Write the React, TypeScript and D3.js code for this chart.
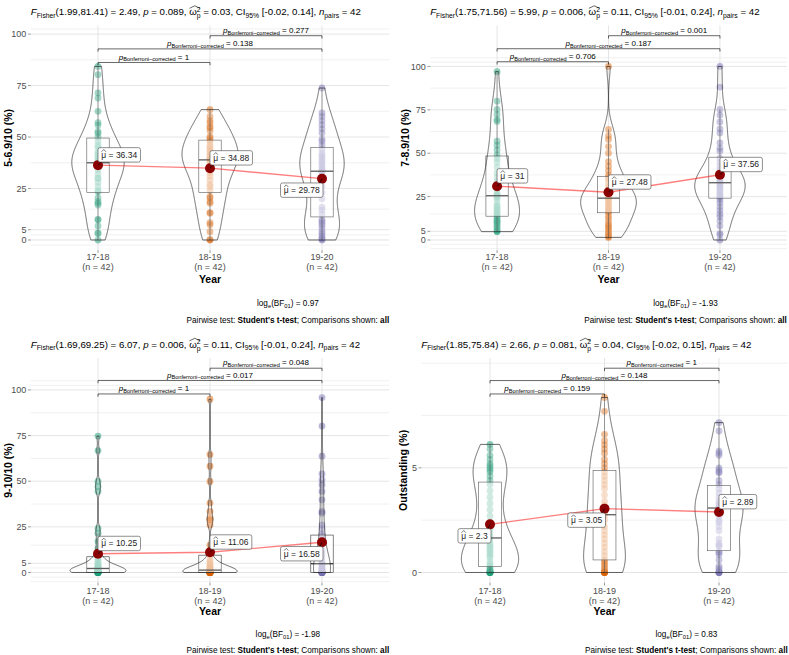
import React, { useEffect, useRef } from "react";
import * as d3 from "d3";

// ---------- shared categories / styling ----------
const years = ["17-18", "18-19", "19-20"];
const groupN = ["(n = 42)", "(n = 42)", "(n = 42)"];
const palette = ["#1B9E77", "#D95F02", "#7570B3"];
const yBreaks = [0, 5, 25, 50, 75, 100];
const pairIdx = [[0, 1], [0, 2], [1, 2]];

// ---------- Panel A: 5-6.9/10 (%) ----------
const a1718 = [84.3, 80.3, 71.4, 68.9, 62.5, 57, 55.8, 52.7, 51.8, 49.9, 48, 46, 45, 43, 42, 41, 40, 39, 38, 37.5, 37.5, 37, 36, 35.6, 34, 32, 30, 29.9, 28, 26, 24, 23.4, 20.4, 18.6, 17.9, 17, 10, 9.8, 6.8, 3.4, 3.2, 0];
const a1819 = [63.3, 60, 58, 56.8, 55, 54.4, 52.9, 50.2, 49.5, 48.5, 47.7, 46, 45, 44, 43, 42, 41, 40, 39.5, 39, 39, 38.5, 37, 36, 34, 32.5, 31, 29, 27, 25.9, 24, 21, 20.4, 18.6, 17.9, 13.3, 13, 8.4, 7.4, 4, 0.2, 0];
const a1920 = [73.8, 61.7, 60, 58, 56, 54, 52, 49, 47.9, 46, 44, 42, 41, 40, 39, 38, 37, 36, 35, 34, 33.4, 33, 31, 29, 28.5, 26, 23, 20, 16, 14.6, 12.5, 10, 9, 8, 7, 5.5, 4, 3, 2, 1, 0.5, 0];
const aMeans = [36.34, 34.88, 29.78];
const aQ1 = [23, 23, 11.2];
const aMed = [37.5, 38.9, 33.4];
const aQ3 = [49.5, 48.5, 45];
const aPairP = ["1", "0.138", "0.277"];
const aPairY = [86.2, 92.8, 99.2];
const aStats = ["1.99,81.41", "2.49", "0.089", "0.03", "[-0.02, 0.14]", "42"];
const aBF = "0.97";

// ---------- Panel B: 7-8.9/10 (%) ----------
const b1718 = [97, 80, 75.2, 72.3, 69.4, 68.3, 56.9, 54.6, 51.9, 49, 47, 45, 42, 38.6, 36, 33.6, 31, 29, 27, 26, 25.5, 25, 24, 22, 20, 19.2, 18, 17, 16, 15, 14, 13.4, 12, 11, 10.8, 9.8, 9, 7.9, 7, 6, 5, 4.8];
const b1819 = [100, 63.7, 60, 57.9, 53.8, 50, 45.2, 42.5, 40, 37.5, 36, 35, 33, 31, 29.8, 28, 27, 26, 25, 24.5, 24, 24, 23, 22, 21, 20, 19, 18, 17, 16.3, 16, 14, 12.5, 10.6, 9, 8, 7, 6, 4.5, 3.5, 2.3, 1.5];
const b1920 = [100, 88.1, 75.2, 72, 68, 64, 61.7, 56, 52.9, 51.2, 47, 45, 43, 41, 40, 38, 37, 36, 35, 34, 33, 33, 32, 31, 30, 29, 28, 27, 26, 25, 24.5, 23, 21.3, 19, 17, 15, 13.5, 11, 8, 3.8, 3.1, 0];
const bMeans = [31, 27.48, 37.56];
const bQ1 = [13.7, 15.7, 24.1];
const bMed = [25.5, 24.1, 33];
const bQ3 = [48.4, 36.6, 47.7];
const bPairP = ["0.706", "0.187", "0.001"];
const bPairY = [102.7, 110.2, 117.7];
const bStats = ["1.75,71.56", "5.99", "0.006", "0.11", "[-0.01, 0.24]", "42"];
const bBF = "-1.93";

// ---------- Panel C: 9-10/10 (%) ----------
const c1718 = [74.7, 66.8, 49.9, 47.1, 44.4, 24.2, 21.5, 17, 13.2, 9.5, 8, 7, 6, 5, 4.5, 4, 3.5, 3, 3, 2.5, 2.2, 2, 2, 1.5, 1.3, 1, 1, 0.5, 0.5, 0.2, 0, 0, 0, 0, 0, 0, 0, 0, 0, 0, 0, 0];
const c1819 = [94.9, 64.6, 58.2, 49.9, 38, 33.4, 29.7, 28.8, 26, 15, 9, 7, 6, 5, 4, 3.5, 3, 2.5, 2, 1.5, 1.3, 1, 1, 0.8, 0.5, 0.5, 0.3, 0, 0, 0, 0, 0, 0, 0, 0, 0, 0, 0, 0, 0, 0, 0];
const c1920 = [95.8, 80.2, 63.7, 54, 50.8, 48.1, 44.4, 39.8, 33.4, 32.5, 26, 24, 21, 20, 18, 15, 12, 10, 8, 6, 5, 4.5, 4, 3, 2.5, 2, 1.5, 1, 0.5, 0.2, 0.1, 0, 0, 0, 0, 0, 0, 0, 0, 0, 0, 0];
const cMeans = [10.25, 11.06, 16.58];
const cQ1 = [0, 0, 0];
const cMed = [2.2, 1.3, 4.8];
const cQ3 = [8.6, 9.5, 20.5];
const cPairP = ["1", "0.017", "0.048"];
const cPairY = [97.8, 105.2, 111.9];
const cStats = ["1.69,69.25", "6.07", "0.006", "0.11", "[-0.01, 0.24]", "42"];
const cBF = "-1.98";

// ---------- Panel D: Outstanding (%) ----------
const d1718 = [6.12, 5.9, 5.6, 5.4, 5.2, 5.1, 5.0, 4.9, 4.8, 4.6, 4.4, 4.2, 3.9, 3.6, 3.3, 3.0, 2.7, 2.4, 2.1, 1.9, 1.7, 1.6, 1.4, 1.3, 1.2, 1.1, 1.0, 0.9, 0.8, 0.7, 0.5, 0.4, 0.3, 0.2, 0.1, 0.1, 0, 0, 0, 0, 0, 0];
const d1819 = [8.36, 7.7, 6.6, 6.3, 6.1, 5.9, 5.7, 5.4, 5.2, 5.0, 4.8, 4.6, 4.4, 4.2, 4.0, 3.7, 3.4, 3.2, 3.0, 2.9, 2.8, 2.7, 2.5, 2.2, 2.0, 1.8, 1.6, 1.4, 1.2, 1.0, 0.8, 0.6, 0.5, 0.4, 0.3, 0.2, 0.1, 0, 0, 0, 0, 0];
const d1920 = [7.16, 6.76, 5.8, 5.7, 5.6, 5.0, 4.9, 4.8, 4.76, 4.4, 4.2, 4.0, 3.8, 3.6, 3.4, 3.3, 3.2, 3.1, 3.1, 3.0, 3.0, 2.9, 2.7, 2.5, 2.4, 2.2, 2.0, 1.6, 1.4, 1.3, 1.25, 1.0, 0.95, 0.85, 0.6, 0.3, 0.2, 0.1, 0, 0, 0, 0];
const dMeans = [2.3, 3.05, 2.89];
const dQ1 = [0.29, 0.6, 1.04];
const dMed = [1.65, 2.76, 3.08];
const dQ3 = [4.32, 4.88, 4.15];
const dPairP = ["0.159", "0.148", "1"];
const dPairY = [8.53, 9.17, 9.76];
const dStats = ["1.85,75.84", "2.66", "0.081", "0.04", "[-0.02, 0.15]", "42"];
const dBF = "0.83";

const panels = [
  { title: "5-6.9/10 (%)", groups: [a1718, a1819, a1920], means: aMeans, q1: aQ1, med: aMed, q3: aQ3, pairP: aPairP, pairY: aPairY, stats: aStats, bf: aBF },
  { title: "7-8.9/10 (%)", groups: [b1718, b1819, b1920], means: bMeans, q1: bQ1, med: bMed, q3: bQ3, pairP: bPairP, pairY: bPairY, stats: bStats, bf: bBF },
  { title: "9-10/10 (%)", groups: [c1718, c1819, c1920], means: cMeans, q1: cQ1, med: cMed, q3: cQ3, pairP: cPairP, pairY: cPairY, stats: cStats, bf: cBF },
  { title: "Outstanding (%)", groups: [d1718, d1819, d1920], means: dMeans, q1: dQ1, med: dMed, q3: dQ3, pairP: dPairP, pairY: dPairY, stats: dStats, bf: dBF },
];

// ---------- layout (pixels) ----------
const layouts = [
  { left: 30.8, right: 389.2, top: 25.5, bottom: 250.2, titleX: 8.3, side: [1, 1, -1], tickY: [10, 20], yearY: 32.5, capY: [56, 73] },
  { left: 430.2, right: 786.8, top: 25.5, bottom: 250.2, titleX: 405, side: [1, 1, 1], tickY: [10, 20], yearY: 32.5, capY: [56, 73] },
  { left: 30.8, right: 389.2, top: 358, bottom: 582.7, titleX: 8.3, side: [1, 1, -1], tickY: [11.2, 21.2], yearY: 32.3, capY: [54.5, 70.3] },
  { left: 421.3, right: 787.7, top: 358, bottom: 582.7, titleX: 403, side: [-1, -1, 1], tickY: [11.2, 21.2], yearY: 32.3, capY: [54.5, 70.3] },
];

const FONT = "'Liberation Sans', Arial, Helvetica, sans-serif";

type Seg = { t: string; s: number; it?: boolean; b?: boolean; dy?: number; stack?: boolean; hat?: boolean; hatExtra?: number };

function richText(parent: any, x: number, y: number, segs: Seg[], anchor: string, fill: string) {
  const g = parent.append("g");
  let cursor = 0;
  let prevStart = 0;
  const hats: number[][] = [];
  for (const sg of segs) {
    const start = sg.stack ? prevStart : cursor;
    const t = g
      .append("text")
      .attr("x", start)
      .attr("y", sg.dy || 0)
      .attr("font-size", sg.s)
      .attr("font-style", sg.it ? "italic" : null)
      .attr("font-weight", sg.b ? "bold" : null)
      .attr("fill", fill)
      .text(sg.t.replace(/ /g, "\u00A0"));
    const w = (t.node() as SVGTextElement).getComputedTextLength();
    if (sg.hat) hats.push([start, w + (sg.hatExtra || 0), sg.s]);
    if (sg.stack) cursor = Math.max(cursor, start + w);
    else {
      prevStart = cursor;
      cursor = start + w;
    }
  }
  hats.forEach(([s0, w, fs]) => {
    const yb = -fs * 0.72;
    const yt = -fs * 0.98;
    g.append("path")
      .attr("d", `M${s0 + 0.3},${yb} L${s0 + w / 2},${yt} L${s0 + w - 0.3},${yb}`)
      .attr("fill", "none")
      .attr("stroke", fill)
      .attr("stroke-width", 0.6);
  });
  const shift = anchor === "start" ? 0 : anchor === "middle" ? -cursor / 2 : -cursor;
  g.attr("transform", `translate(${x + shift},${y})`);
  return cursor;
}

function kde(vals: number[]) {
  const n = vals.length;
  const sorted = [...vals].sort((a, b) => a - b);
  const sd = d3.deviation(vals) || 0;
  const iqr = (d3.quantile(sorted, 0.75) as number) - (d3.quantile(sorted, 0.25) as number);
  let lo = Math.min(sd, iqr / 1.34);
  if (!(lo > 0)) lo = sd || Math.abs(sorted[0]) || 1;
  const bw = 0.9 * lo * Math.pow(n, -0.2);
  const mn = sorted[0];
  const mx = sorted[n - 1];
  return d3.range(512).map((k) => {
    const v = mn + ((mx - mn) * k) / 511;
    const d = (d3.mean(vals, (xi) => Math.exp(-0.5 * ((v - xi) / bw) ** 2)) as number) / (bw * Math.sqrt(2 * Math.PI));
    return { v, d };
  });
}

function drawPanel(svg: any, p: any, L: any) {
  const g = svg.append("g");
  const x = d3.scalePoint<string>().domain(years).range([L.left, L.right]).padding(0.6);
  const step = x.step();
  const allVals: number[] = p.groups.flat();
  const lo = Math.min(d3.min(allVals) as number, 0);
  const hi = d3.max(p.pairY as number[]) as number;
  const span = hi - lo;
  const y = d3.scaleLinear().domain([lo - 0.05 * span, hi + 0.05 * span]).range([L.bottom, L.top]);
  const [d0, d1] = y.domain();

  // grid
  const major = yBreaks.filter((b) => b >= d0 && b <= d1);
  const bd = major[1] - major[0];
  let ext = [...major];
  if (d0 < major[0]) ext = [major[0] - bd, ...ext];
  if (d1 > major[major.length - 1]) ext = [...ext, major[major.length - 1] + bd];
  const minor: number[] = [];
  for (let k = 0; k < ext.length - 1; k++) minor.push((ext[k] + ext[k + 1]) / 2);
  ext.forEach((v) => { if (!major.includes(v)) minor.push(v); });
  const grid = g.append("g");
  minor.filter((v) => v >= d0 && v <= d1).forEach((v) => {
    grid.append("line").attr("x1", L.left).attr("x2", L.right).attr("y1", y(v)).attr("y2", y(v))
      .attr("stroke", "#E6E6E6").attr("stroke-width", 0.55);
  });
  major.forEach((v) => {
    grid.append("line").attr("x1", L.left).attr("x2", L.right).attr("y1", y(v)).attr("y2", y(v))
      .attr("stroke", "#E0E0E0").attr("stroke-width", 0.85);
  });
  years.forEach((c) => {
    grid.append("line").attr("x1", x(c)).attr("x2", x(c)).attr("y1", L.top).attr("y2", L.bottom)
      .attr("stroke", "#E0E0E0").attr("stroke-width", 0.85);
  });

  // points
  p.groups.forEach((vals: number[], i: number) => {
    const cx = x(years[i]) as number;
    g.append("g").selectAll("circle").data(vals).join("circle")
      .attr("cx", cx).attr("cy", (v: number) => y(v)).attr("r", 3.4)
      .attr("fill", palette[i]).attr("fill-opacity", 0.5);
  });

  // boxplots
  p.groups.forEach((vals: number[], i: number) => {
    const cx = x(years[i]) as number;
    const q1 = p.q1[i], q3 = p.q3[i], md = p.med[i];
    const iqr = q3 - q1;
    const up = d3.max(vals.filter((v) => v <= q3 + 1.5 * iqr)) as number;
    const dn = d3.min(vals.filter((v) => v >= q1 - 1.5 * iqr)) as number;
    const bw = 0.2 * step;
    const bg = g.append("g").attr("stroke", "#333").attr("stroke-width", 0.6);
    bg.append("line").attr("x1", cx).attr("x2", cx).attr("y1", y(q3)).attr("y2", y(up));
    bg.append("line").attr("x1", cx).attr("x2", cx).attr("y1", y(q1)).attr("y2", y(dn));
    bg.append("rect").attr("x", cx - bw / 2).attr("width", bw).attr("y", y(q3)).attr("height", y(q1) - y(q3))
      .attr("fill", "#fff").attr("fill-opacity", 0.5);
    bg.append("line").attr("x1", cx - bw / 2).attr("x2", cx + bw / 2).attr("y1", y(md)).attr("y2", y(md))
      .attr("stroke-width", 1.3);
  });

  // violins (scale = "area")
  const dens = p.groups.map((vals: number[]) => kde(vals));
  const maxD = d3.max(dens.flat(), (d: any) => d.d) as number;
  dens.forEach((dd: any[], i: number) => {
    const cx = x(years[i]) as number;
    const hw = 0.25 * step;
    const area = d3.area<any>()
      .y((d) => y(d.v))
      .x0((d) => cx - (d.d / maxD) * hw)
      .x1((d) => cx + (d.d / maxD) * hw);
    g.append("path").attr("d", area(dd)).attr("fill", "#fff").attr("fill-opacity", 0.2)
      .attr("stroke", "#1a1a1a").attr("stroke-width", 0.65);
  });

  // mean path & points
  const mpts = p.means.map((m: number, i: number) => [x(years[i]) as number, y(m)]);
  g.append("path").attr("d", d3.line()(mpts)).attr("fill", "none").attr("stroke", "red")
    .attr("stroke-opacity", 0.5).attr("stroke-width", 1.4);
  mpts.forEach(([mx, my]: number[]) => {
    g.append("circle").attr("cx", mx).attr("cy", my).attr("r", 5).attr("fill", "#8B0000");
  });

  // mean labels
  p.means.forEach((m: number, i: number) => {
    const [mx, my] = mpts[i];
    const side = L.side[i];
    const cy = side > 0 ? my - 10.3 : my + 11.5;
    const lg = g.append("g");
    const seg = lg.append("line");
    const rect = lg.append("rect");
    const segs: Seg[] = [{ t: "μ", s: 8.5, hat: true }, { t: ` = ${m}`, s: 8.5 }];
    let w;
    if (side > 0) w = richText(lg, mx + 3.3, cy + 3, segs, "start", "#222");
    else w = richText(lg, mx + 1 - 3.3, cy + 3, segs, "end", "#222");
    const bwid = w + 6.6;
    const left = side > 0 ? mx : mx + 1 - bwid;
    rect.attr("x", left).attr("y", cy - 7.2).attr("width", bwid).attr("height", 14.4).attr("rx", 2)
      .attr("fill", "#fff").attr("stroke", "#444").attr("stroke-width", 0.6);
    seg.attr("x1", mx).attr("y1", my)
      .attr("x2", side > 0 ? left + 3 : left + bwid - 3).attr("y2", side > 0 ? cy + 7.2 : cy - 7.2)
      .attr("stroke", "#000").attr("stroke-width", 0.6);
  });

  // pairwise brackets
  const tip = 0.0125 * (d1 - d0);
  pairIdx.forEach(([a, b], k) => {
    const x1 = x(years[a]) as number;
    const x2 = x(years[b]) as number;
    const yy = y(p.pairY[k]);
    const yt = y(p.pairY[k] - tip);
    g.append("path").attr("d", `M${x1},${yt} V${yy} H${x2} V${yt}`).attr("fill", "none")
      .attr("stroke", "#000").attr("stroke-width", 0.6);
    richText(g, (x1 + x2) / 2, yy - 2.8, [
      { t: "p", s: 8, it: true },
      { t: "Bonferroni\u2212corrected", s: 5.6, dy: 1.8 },
      { t: ` = ${p.pairP[k]}`, s: 8 },
    ], "middle", "#000");
  });

  // axes
  const ax = g.append("g");
  major.forEach((v) => {
    ax.append("line").attr("x1", L.left - 2.75).attr("x2", L.left).attr("y1", y(v)).attr("y2", y(v))
      .attr("stroke", "#333").attr("stroke-width", 0.5);
    ax.append("text").attr("x", L.left - 4.4).attr("y", y(v) + 3.1).attr("text-anchor", "end")
      .attr("font-size", 9).attr("fill", "#4D4D4D").text(v);
  });
  years.forEach((c, i) => {
    const cx = x(c) as number;
    ax.append("line").attr("x1", cx).attr("x2", cx).attr("y1", L.bottom).attr("y2", L.bottom + 2.75)
      .attr("stroke", "#333").attr("stroke-width", 0.5);
    ax.append("text").attr("x", cx).attr("y", L.bottom + L.tickY[0]).attr("text-anchor", "middle")
      .attr("font-size", 9).attr("fill", "#4D4D4D").text(c);
    ax.append("text").attr("x", cx).attr("y", L.bottom + L.tickY[1]).attr("text-anchor", "middle")
      .attr("font-size", 9).attr("fill", "#4D4D4D").text(groupN[i]);
  });
  const midX = (L.left + L.right) / 2;
  ax.append("text").attr("x", midX).attr("y", L.bottom + L.yearY).attr("text-anchor", "middle")
    .attr("font-size", 10.5).attr("font-weight", "bold").text("Year");
  const midY = (L.top + L.bottom) / 2;
  ax.append("text").attr("transform", `translate(${L.titleX + 3.7},${midY}) rotate(-90)`)
    .attr("text-anchor", "middle").attr("font-size", 10.5).attr("font-weight", "bold").text(p.title);

  // subtitle
  const [df, F, pv, om, ci, np] = p.stats;
  richText(g, L.left, L.top - 10.2, [
    { t: "F", s: 9.7, it: true },
    { t: "Fisher", s: 6.8, dy: 2.2 },
    { t: `(${df}) = ${F}, `, s: 9.7 },
    { t: "p", s: 9.7, it: true },
    { t: ` = ${pv}, `, s: 9.7 },
    { t: "ω", s: 9.7, hat: true, hatExtra: 3.6 },
    { t: "2", s: 6.8, dy: -3.8 },
    { t: "p", s: 6.8, dy: 2.7, stack: true },
    { t: ` = ${om}, CI`, s: 9.7 },
    { t: "95%", s: 6.8, dy: 2.2 },
    { t: ` ${ci}, `, s: 9.7 },
    { t: "n", s: 9.7, it: true },
    { t: "pairs", s: 6.8, dy: 2.2 },
    { t: ` = ${np}`, s: 9.7 },
  ], "start", "#000");

  // caption
  const cw = richText(g, L.right, L.bottom + L.capY[1], [
    { t: "Pairwise test: ", s: 8.2 },
    { t: "Student's t-test", s: 8.2, b: true },
    { t: "; Comparisons shown: ", s: 8.2 },
    { t: "all", s: 8.2, b: true },
  ], "end", "#000");
  richText(g, L.right - cw / 2, L.bottom + L.capY[0], [
    { t: "log", s: 8.2 },
    { t: "e", s: 5.8, dy: 2 },
    { t: "(BF", s: 8.2 },
    { t: "01", s: 5.8, dy: 2 },
    { t: `) = ${p.bf}`, s: 8.2 },
  ], "middle", "#000");
}

export default function App() {
  const ref = useRef<SVGSVGElement>(null);
  useEffect(() => {
    const svg = d3.select(ref.current);
    svg.selectAll("*").remove();
    svg.append("rect").attr("width", 789).attr("height", 655).attr("fill", "#fff");
    panels.forEach((p, i) => drawPanel(svg, p, layouts[i]));
  }, []);
  return (
    <svg
      ref={ref}
      width={789}
      height={655}
      fontFamily={FONT}
      style={{ position: "absolute", left: 0, top: 0, background: "#fff" }}
    />
  );
}
